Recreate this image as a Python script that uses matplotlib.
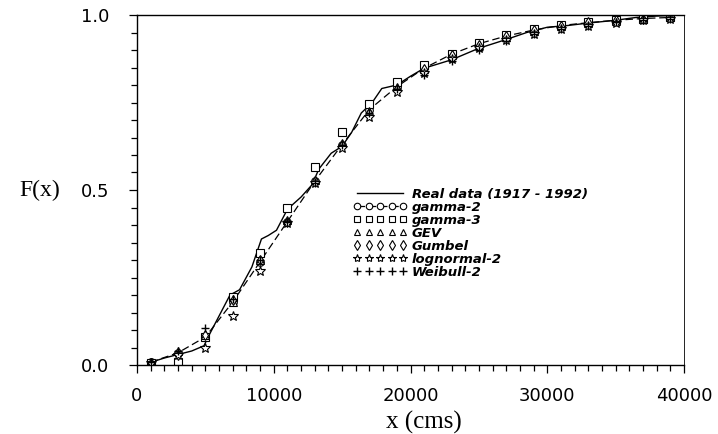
import matplotlib
matplotlib.use("Agg")
import matplotlib.pyplot as plt
from matplotlib.ticker import MultipleLocator, FormatStrFormatter

# ===== data =====
x_real = [800, 2000, 3000, 4000, 4900, 5200, 6000, 6800, 7500, 8400, 9100,
          9600, 10200, 11000, 12000, 12800, 13300, 14200, 15000, 15700, 16400,
          17200, 17900, 19000, 20000, 21000, 23000, 25000, 27000, 28500, 30000,
          31500, 33000, 35000, 36500, 38000, 40000]
F_real = [0.005, 0.02, 0.03, 0.04, 0.055, 0.08, 0.14, 0.2, 0.215, 0.28, 0.36,
          0.37, 0.385, 0.445, 0.48, 0.515, 0.56, 0.605, 0.625, 0.665, 0.72,
          0.75, 0.79, 0.8, 0.825, 0.848, 0.872, 0.905, 0.93, 0.95, 0.965,
          0.97, 0.977, 0.985, 0.993, 0.997, 1.0]

x_fit = [1000, 3000, 5000, 7000, 9000, 11000, 13000, 15000, 17000, 19000,
         21000, 23000, 25000, 27000, 29000, 31000, 33000, 35000, 37000, 39000]
F_gamma2 = [0.008, 0.035, 0.08, 0.18, 0.295, 0.41, 0.525, 0.63, 0.73, 0.795,
            0.848, 0.888, 0.918, 0.94, 0.957, 0.97, 0.978, 0.985, 0.99, 0.993]
F_gamma3 = [0.005, 0.01, 0.08, 0.195, 0.32, 0.448, 0.565, 0.665, 0.745, 0.81,
            0.858, 0.89, 0.92, 0.943, 0.96, 0.972, 0.98, 0.986, 0.99, 0.994]
F_gev = [0.008, 0.04, 0.085, 0.18, 0.3, 0.415, 0.53, 0.635, 0.725, 0.795,
         0.845, 0.885, 0.915, 0.938, 0.955, 0.968, 0.977, 0.984, 0.989, 0.993]
F_gumbel = [0.005, 0.03, 0.085, 0.185, 0.3, 0.41, 0.525, 0.63, 0.72, 0.79,
            0.845, 0.885, 0.915, 0.94, 0.957, 0.97, 0.979, 0.986, 0.99, 0.993]
F_lognorm = [0.005, 0.03, 0.05, 0.14, 0.27, 0.405, 0.52, 0.62, 0.71, 0.78,
             0.835, 0.875, 0.905, 0.928, 0.945, 0.96, 0.97, 0.978, 0.985, 0.99]
F_weibull = [0.008, 0.04, 0.105, 0.19, 0.3, 0.41, 0.52, 0.63, 0.72, 0.79,
             0.83, 0.87, 0.9, 0.925, 0.945, 0.96, 0.97, 0.98, 0.985, 0.99]

labels = ["Real data (1917 - 1992)", "gamma-2", "gamma-3", "GEV", "Gumbel",
          "lognormal-2", "Weibull-2"]

# ===== plot =====
fig = plt.figure(figsize=(7.18, 4.34), dpi=100)
ax = fig.add_axes([137 / 718, 69 / 434, 547 / 718, 350 / 434])

mk = dict(mfc="white", mec="black", mew=0.8, ms=5.5, color="black")
ax.plot(x_real, F_real, "-", color="black", lw=1.0, label=labels[0])
ax.plot(x_fit, F_gamma2, marker="o", ls=(0, (6, 3)), lw=0.9, label=labels[1], **mk)
ax.plot(x_fit, F_gamma3, marker="s", ls="none", label=labels[2], **mk)
ax.plot(x_fit, F_gev, marker="^", ls="none", label=labels[3], **mk)
ax.plot(x_fit, F_gumbel, marker="d", ls="none", label=labels[4], **mk)
ax.plot(x_fit, F_lognorm, marker="*", ls="none", label=labels[5],
        mfc="white", mec="black", mew=0.8, ms=7, color="black")
ax.plot(x_fit, F_weibull, marker="+", ls="none", label=labels[6],
        mec="black", mew=1.0, ms=6, color="black")

ax.set_xlim(0, 40000)
ax.set_ylim(0, 1.0)
ax.xaxis.set_major_locator(MultipleLocator(10000))
ax.xaxis.set_minor_locator(MultipleLocator(1000))
ax.yaxis.set_major_locator(MultipleLocator(0.5))
ax.yaxis.set_minor_locator(MultipleLocator(0.05))
ax.yaxis.set_major_formatter(FormatStrFormatter("%.1f"))

ax.tick_params(which="both", direction="out", top=False, right=False, width=0.9)
ax.tick_params(which="major", length=6)
ax.tick_params(which="minor", length=4)
ax.tick_params(axis="x", which="major", pad=10, labelsize=13)
ax.tick_params(axis="y", which="major", pad=14, labelsize=13)
for t in ax.get_xticklabels() + ax.get_yticklabels():
    t.set_fontfamily("DejaVu Sans")
for sp in ax.spines.values():
    sp.set_linewidth(1.0)
ax.spines["right"].set_linewidth(0.6)

ax.set_xlabel("x (cms)", fontfamily="Liberation Serif", fontsize=18)
ax.xaxis.set_label_coords((424 - 137) / 547, -0.13)
ax.set_ylabel("F(x)", fontfamily="Liberation Serif", fontsize=17, rotation=0,
              ha="center", va="center")
ax.yaxis.set_label_coords((40 - 137) / 547, 0.5)

ax.legend(loc="upper left", bbox_to_anchor=(353 / 718, 1 - 188 / 434),
          bbox_transform=fig.transFigure, frameon=False, numpoints=5,
          markerscale=0.85, handlelength=4.1, handletextpad=0.35,
          labelspacing=0.0, borderpad=0, borderaxespad=0,
          prop=dict(family="DejaVu Sans", style="italic", weight="bold", size=9.5))

plt.savefig("out.png", dpi=100)
plt.close(fig)
